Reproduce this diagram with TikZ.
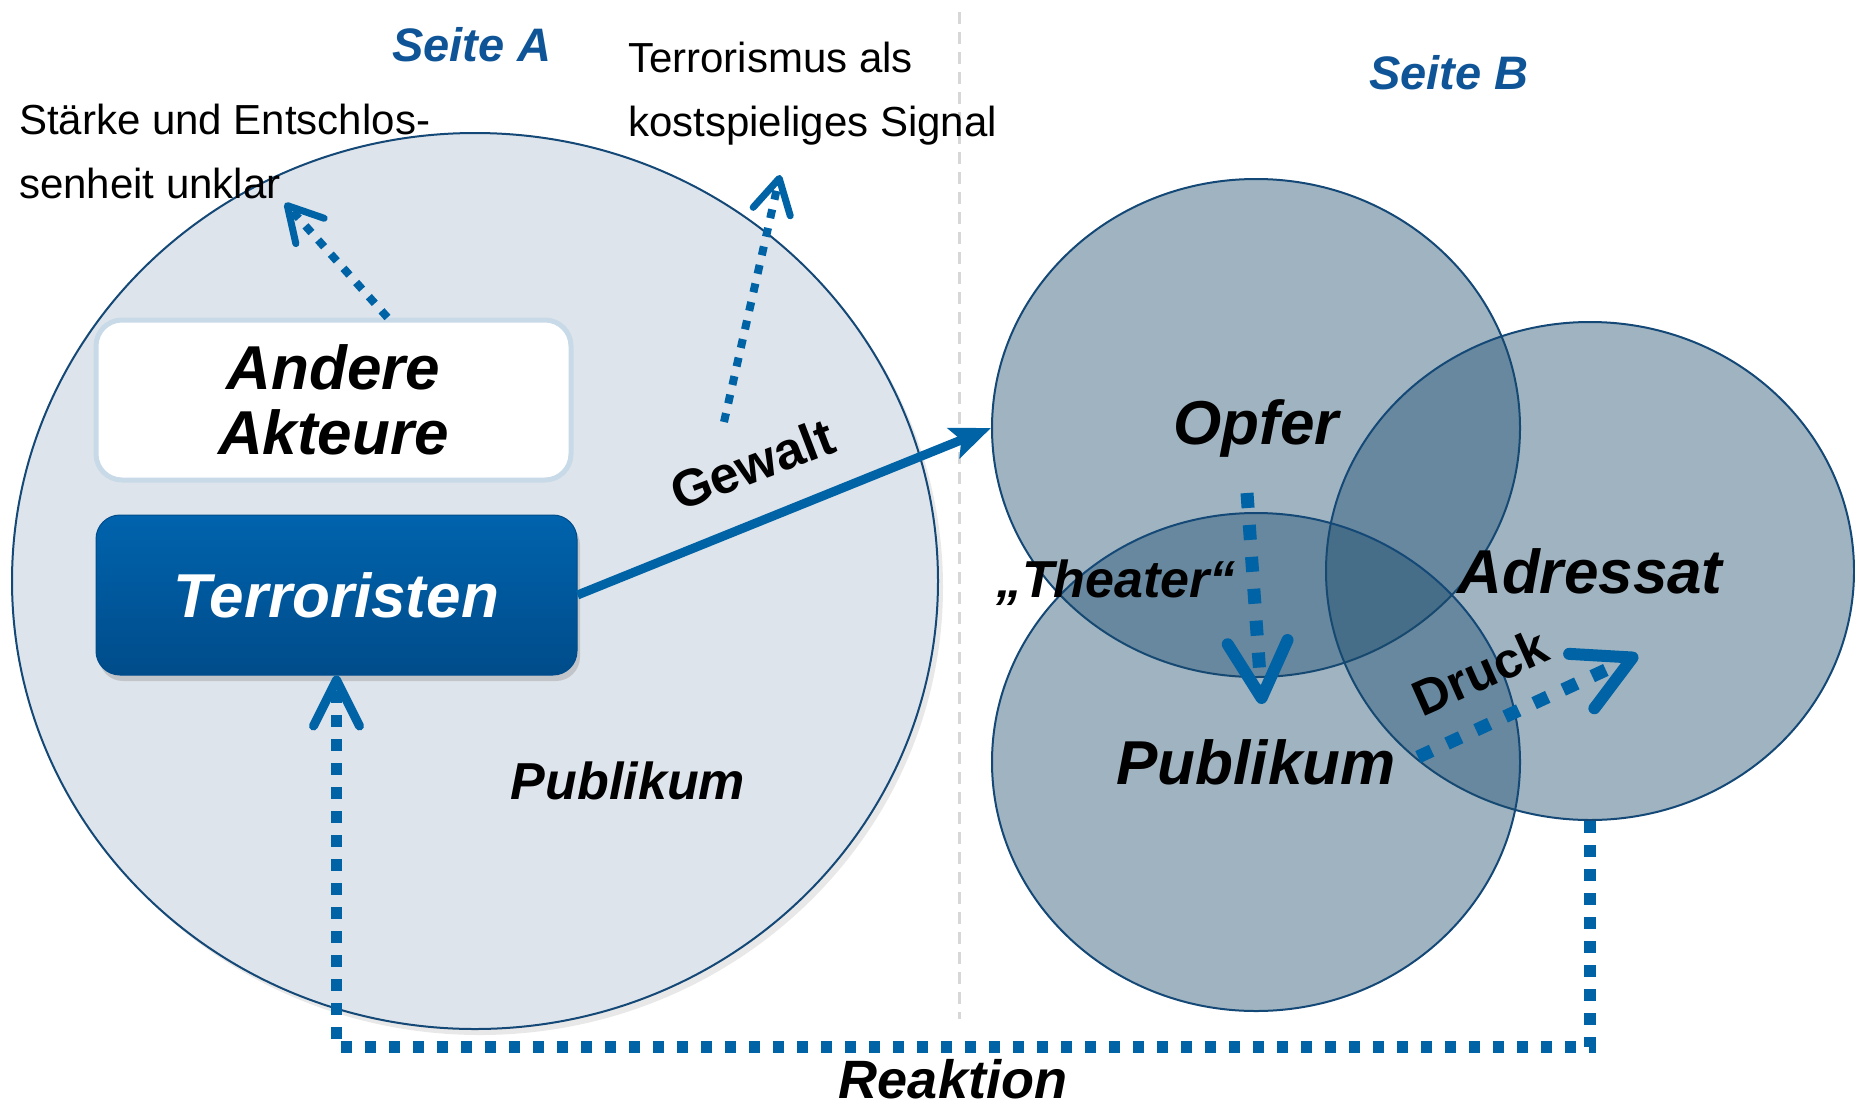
\documentclass[tikz,border=0pt]{standalone}
\usepackage{fontspec}
\setmainfont{Liberation Sans}
\usetikzlibrary{shapes.geometric,arrows.meta,shadows,calc}
\definecolor{arrowblue}{RGB}{0,99,166}
\definecolor{ellline}{RGB}{20,72,118}
\definecolor{lightfill}{RGB}{222,228,235}
\definecolor{venn}{RGB}{26,75,108}
\definecolor{seiteblue}{RGB}{14,84,150}
\definecolor{anderebd}{RGB}{200,218,232}
\definecolor{terrtop}{RGB}{0,99,173}
\definecolor{terrbot}{RGB}{0,76,138}
\definecolor{sepgray}{RGB}{215,215,215}
\begin{document}
\begin{tikzpicture}[x=1pt,y=-1pt,
  note/.style={font=\fontsize{42}{64}\selectfont, align=left, inner sep=0pt, anchor=north west},
  seite/.style={font=\fontsize{47}{50}\selectfont\bfseries\itshape, text=seiteblue, inner sep=0pt, anchor=base},
  bigtxt/.style={font=\fontsize{62}{65}\selectfont\bfseries\itshape, inner sep=0pt, align=center},
  midtxt/.style={font=\fontsize{52}{56}\selectfont\bfseries\itshape, inner sep=0pt, anchor=base},
  slanttxt/.style={font=\fontsize{#1}{56}\selectfont\bfseries, inner sep=0pt},
  bigell/.style={ellipse, draw=ellline, line width=2pt, fill=lightfill, inner sep=0pt,
    minimum width=926pt, minimum height=896pt,
    drop shadow={opacity=0.18, shadow xshift=5pt, shadow yshift=-6pt}},
  vennell/.style={ellipse, draw=ellline, line width=2pt, fill=venn, fill opacity=0.42,
    draw opacity=1, inner sep=0pt, minimum width=528pt, minimum height=498pt},
  anderebox/.style={rectangle, rounded corners=26pt, draw=anderebd, line width=5pt, fill=white,
    minimum width=475pt, minimum height=160pt, inner sep=0pt},
  terrbox/.style={rectangle, rounded corners=24pt, top color=terrtop, bottom color=terrbot,
    draw=terrbot, line width=1pt, minimum width=481pt, minimum height=160pt, inner sep=0pt,
    text=white, drop shadow={opacity=0.3, shadow xshift=3pt, shadow yshift=-6pt}},
  sepline/.style={draw=sepgray, line width=3pt, dash pattern=on 12pt off 8pt},
  gewarr/.style={draw=arrowblue, line width=9pt, -{Stealth[length=40pt, width=32pt, inset=8pt]}},
  dotsmall/.style={draw=arrowblue, line width=8pt, dash pattern=on 9pt off 10pt,
    -{Straight Barb[length=34pt, width=38pt, line width=7pt, round]}},
  dotbig/.style={draw=arrowblue, line width=13pt, dash pattern=on 15pt off 17pt,
    -{Straight Barb[length=56pt, width=60pt, line width=12pt, round]}},
  reak/.style={draw=arrowblue, line width=11.5pt, dash pattern=on 11.5pt off 12.5pt,
    -{Straight Barb[length=46pt, width=46pt, line width=9pt, round]}}
]
\useasboundingbox (0,0) rectangle (1855,1106);

% left side
\node[bigell] (lpub) at (475,581) {};
\coordinate (sepA) at (959,12);
\coordinate (sepB) at (959,1019);
\draw[sepline] (sepA) -- (sepB);

% right side ellipses
\node[vennell] (opfer) at (1256,428) {};
\node[vennell] (adr) at (1590,571) {};
\node[vennell] (rpub) at (1256,762) {};

% headings and notes
\node[seite] (seiteA) at (472,61) {Seite A};
\node[seite] (seiteB) at (1449,89) {Seite B};
\node[note] (starke) at (19,104) {Stärke und Entschlos-\\senheit unklar};
\node[note] (signal) at (628,42) {Terrorismus als\\kostspieliges Signal};

% boxes
\node[anderebox] (andere) at (333.5,400) {};
\node[bigtxt] (anderetxt) at (andere.center) {Andere\\Akteure};
\node[terrbox] (terr) at (336.5,595) {};
\node[bigtxt, text=white] (terrtxt) at (terr.center) {Terroristen};

% labels
\node[midtxt] (lpubtxt) at (628,799) {Publikum};
\node[slanttxt=52, rotate=21] (gewalt) at (752,464) {Gewalt};
\node[bigtxt] (opfertxt) at (opfer.center) {Opfer};
\node[bigtxt] (adrtxt) at (adr.center) {Adressat};
\node[bigtxt] (rpubtxt) at (rpub.center) {Publikum};
\node[midtxt] (theater) at (1116,597) {„Theater“};
\node[slanttxt=50, rotate=24] (druck) at (1480,672) {Druck};
\node[midtxt, font=\fontsize{54}{56}\selectfont\bfseries\itshape] (reaktion) at (953,1098) {Reaktion};

% connectors
\draw[gewarr] (terr.east) -- (opfer.west);

\coordinate (a1s) at ([xshift=54pt]andere.north);
\coordinate (a1e) at (285,203);
\draw[dotsmall] (a1s) -- (a1e);

\coordinate (a2s) at (724,422);
\coordinate (a2e) at (780,175);
\draw[dotsmall] (a2s) -- (a2e);

\coordinate (a3s) at (1247,493);
\coordinate (a3e) at (1262,704);
\draw[dotbig] (a3s) -- (a3e);

\coordinate (a4s) at (1418,757);
\coordinate (a4e) at (1638,655);
\draw[dotbig] (a4s) -- (a4e);

\coordinate (rk) at (0,1047);
\draw[reak] (adr.south) -- (adr.south |- rk) -- (terr.south |- rk) -- (terr.south);
\end{tikzpicture}
\end{document}
